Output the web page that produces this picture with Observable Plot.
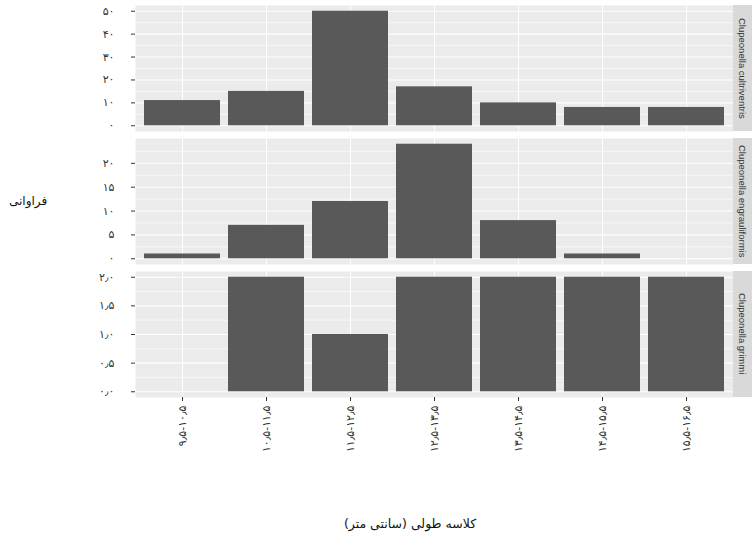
<!DOCTYPE html>
<html><head><meta charset="utf-8">
<script src="https://cdn.jsdelivr.net/npm/d3@7"></script>
<script src="https://cdn.jsdelivr.net/npm/@observablehq/plot@0.6"></script>
<style>
body{margin:0;background:#fff;}
#wrap{position:relative;width:754px;height:539px;overflow:hidden;font-family:"DejaVu Sans",sans-serif;}
.panel{position:absolute;left:0;}
.strip{position:absolute;left:733px;width:19px;background:#D9D9D9;writing-mode:vertical-rl;display:flex;align-items:center;justify-content:center;font-size:9.5px;color:#333;font-family:"Liberation Sans",Arial,sans-serif;white-space:nowrap;overflow:hidden;}
.ytitle{position:absolute;left:9px;top:194px;font-size:12px;color:#111;direction:rtl;}
.xtitle{position:absolute;left:310px;width:200px;top:516px;text-align:center;font-size:12.5px;color:#111;direction:rtl;}
</style>
</head><body>
<div id="wrap"></div>
<script>
// ---- data ----
const classes = ["۹٫۵-۱۰٫۵", "۱۰٫۵-۱۱٫۵", "۱۱٫۵-۱۲٫۵", "۱۲٫۵-۱۳٫۵", "۱۳٫۵-۱۴٫۵", "۱۴٫۵-۱۵٫۵", "۱۵٫۵-۱۶٫۵"];
const species = ["Clupeonella cultriventris", "Clupeonella engrauliformis", "Clupeonella grimmi"];
const cultriventris = [11, 15, 50, 17, 10, 8, 8];
const engrauliformis = [1, 7, 12, 24, 8, 1, 0];
const grimmi = [0, 2, 1, 2, 2, 2, 2];
const ticks1 = [0, 10, 20, 30, 40, 50];
const ticks2 = [0, 5, 10, 15, 20];
const ticks3 = [0, 0.5, 1, 1.5, 2];
const minor1 = [5, 15, 25, 35, 45];
const minor2 = [2.5, 7.5, 12.5, 17.5, 22.5];
const minor3 = [0.25, 0.75, 1.25, 1.75];
const yTitle = "فراوانی";
const xTitle = "کلاسه طولی (سانتی متر)";

const fa = s => String(s).replace(/\d/g, d => "۰۱۲۳۴۵۶۷۸۹"[d]).replace(".", "٫");
const fmtInt = v => fa(v);
const fmtDec = v => fa(v.toFixed(1));

const series = [
  {name: species[0], values: cultriventris, ticks: ticks1, minor: minor1, fmt: fmtInt},
  {name: species[1], values: engrauliformis, ticks: ticks2, minor: minor2, fmt: fmtInt},
  {name: species[2], values: grimmi, ticks: ticks3, minor: minor3, fmt: fmtDec}
];

const wrap = document.getElementById("wrap");
const panelTops = [5, 138, 271];
const panelH = 126;

series.forEach((s, k) => {
  const rows = classes.map((c, i) => ({cls: c, n: s.values[i]}));
  const mx = d3.max(s.values);
  const last = k === series.length - 1;
  const svgTop = panelTops[k] - 5;
  const height = last ? 539 - svgTop : panelH + 5 + 2;
  const marks = [
    Plot.frame({fill: "#EBEBEB", stroke: "none"}),
    Plot.gridY(s.minor, {stroke: "white", strokeOpacity: 1, strokeWidth: 0.6}),
    Plot.gridY(s.ticks, {stroke: "white", strokeOpacity: 1, strokeWidth: 1.1}),
    Plot.gridX({stroke: "white", strokeOpacity: 1, strokeWidth: 1.1}),
    Plot.barY(rows, {x: "cls", y: "n", fill: "#595959"}),
    Plot.axisY(s.ticks, {tickFormat: s.fmt, tickSize: 4, tickPadding: 17, fontSize: 11, color: "#333", label: null})
  ];
  if (last) {
    marks.push(Plot.axisX({tickRotate: -90, tickSize: 4, tickPadding: 4, fontSize: 11, color: "#333", label: null}));
  }
  const chart = Plot.plot({
    width: 754,
    height,
    marginTop: 5,
    marginBottom: height - 5 - panelH,
    marginLeft: 135,
    marginRight: 21,
    style: {background: "transparent", fontFamily: "DejaVu Sans, sans-serif", overflow: "visible"},
    x: {type: "band", domain: classes, paddingInner: 0.1, paddingOuter: 0.108, axis: null},
    y: {domain: [-0.05 * mx, 1.05 * mx], axis: null},
    marks
  });
  chart.classList.add("panel");
  chart.style.top = svgTop + "px";
  wrap.appendChild(chart);

  const strip = document.createElement("div");
  strip.className = "strip";
  strip.style.top = panelTops[k] + "px";
  strip.style.height = panelH + "px";
  strip.textContent = s.name;
  wrap.appendChild(strip);
});

const yt = document.createElement("div");
yt.className = "ytitle"; yt.textContent = yTitle; wrap.appendChild(yt);
const xt = document.createElement("div");
xt.className = "xtitle"; xt.textContent = xTitle; wrap.appendChild(xt);
</script>
</body></html>
